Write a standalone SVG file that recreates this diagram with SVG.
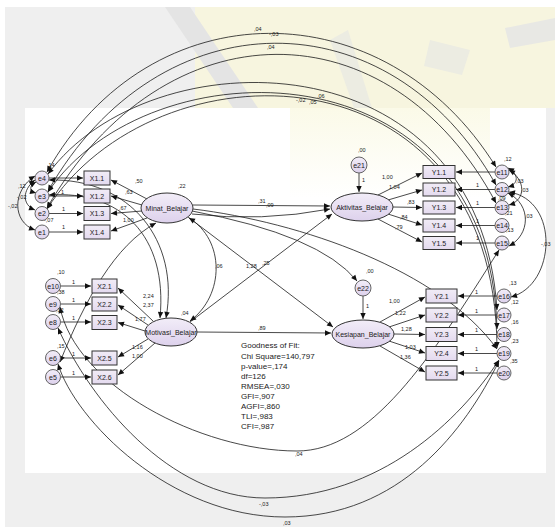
<svg xmlns="http://www.w3.org/2000/svg" width="555" height="527" viewBox="0 0 555 527">
<defs>
<marker id="ah" viewBox="0 0 10 10" refX="10" refY="5" markerWidth="7" markerHeight="6" markerUnits="userSpaceOnUse" orient="auto-start-reverse"><path d="M0,0.5 L10,5 L0,9.5 z" fill="#111"/></marker>
<linearGradient id="lg" x1="0" y1="0" x2="0" y2="1"><stop offset="0" stop-color="#f2edf8"/><stop offset="1" stop-color="#ddd1ec"/></linearGradient>
<linearGradient id="bg" x1="0" y1="0" x2="0" y2="1"><stop offset="0" stop-color="#f1ecf6"/><stop offset="1" stop-color="#e4daef"/></linearGradient>
<linearGradient id="yl" x1="0" y1="0" x2="0" y2="1"><stop offset="0" stop-color="#fbfae8"/><stop offset="1" stop-color="#ffffff"/></linearGradient>
</defs>
<style>
.c{fill:none;stroke:#1a1a1a;stroke-width:0.8}
.a{marker-end:url(#ah)}
.d{marker-start:url(#ah);marker-end:url(#ah)}
.box{fill:url(#bg);stroke:#333;stroke-width:1}
.lat{fill:url(#lg);stroke:#333;stroke-width:1}
.err{fill:url(#lg);stroke:#555;stroke-width:0.9}
text{font-family:"Liberation Sans",Arial,sans-serif;fill:#1a1a1a}
.n{font-size:7px;text-anchor:middle}
.v{font-size:5.5px}
.g{font-size:8px}
</style>
<!-- background -->
<rect x="0" y="0" width="555" height="527" fill="#ffffff"/>
<rect x="5" y="7" width="550" height="520" fill="#efefef"/>
<rect x="195" y="7" width="360" height="101" fill="#f7f5df"/>
<polygon points="165,7 190,7 258,108 233,108" fill="#e4e4e4"/>
<polygon points="330,40 348,30 372,108 354,108" fill="#ecece2"/>
<polygon points="430,40 470,50 462,75 424,66" fill="#ecece2"/>
<polygon points="505,28 555,18 555,40 510,48" fill="#e8e8e4"/>
<rect x="25" y="108" width="521" height="365" fill="#ffffff"/>
<rect x="290" y="108" width="200" height="90" fill="url(#yl)"/>

<g id="connectors">
<!-- top arcs -->
<path class="c d" d="M47,172 C150,-12 385,-12 496,167"/>
<path class="c d" d="M48,191 C160,-5 390,-5 496,185"/>
<path class="c d" d="M47,208 C165,4 390,4 496,203"/>
<path class="c d" d="M48,174 C150,35 480,35 497,310"/>
<path class="c d" d="M48,192 C150,42 490,42 497,329"/>
<path class="c d" d="M47,209 C155,40 495,40 497,348"/>
<!-- bottom arcs -->
<path class="c d" d="M60,307 C75,385 200,451 297,451 C370,451 430,360 499,250"/>
<path class="c d" d="M58,328 C90,400 170,498 265,498 C380,498 460,420 499,360"/>
<path class="c d" d="M58,364 C75,420 170,517 285,517 C400,517 465,430 499,361"/>
<!-- left local covariances -->
<path class="c d" d="M36,182 C29,186 29,191 36,193"/>
<path class="c d" d="M35,180 C22,190 22,205 35,210"/>
<path class="c d" d="M35,176 C12,190 12,222 35,230"/>
<!-- right local covariances -->
<path class="c d" d="M508,168 C519,174 519,184 508,187"/>
<path class="c d" d="M509,170 C526,180 526,200 509,205"/>
<path class="c d" d="M508,193 C532,205 530,235 509,246"/>
<path class="c d" d="M509,192 C560,200 556,285 511,297"/>
<!-- middle covariances -->
<path class="c d" d="M189,218 C225,240 225,295 190,321"/>
<path class="c d" d="M49,195 C120,190 168,235 160,318"/>
<path class="c d" d="M49,180 C130,178 180,240 166,318"/>
<path class="c d" d="M60,362 C85,300 115,245 156,223"/>
<path class="c a" d="M192,211 Q320,235 357,281"/>
<path class="c a" d="M193,209 C300,222 440,270 497,349"/>
<!-- structural -->
<path class="c a" d="M193,205 L330,206"/>
<path class="c a" d="M192,214 Q262,222 330,209"/>
<path class="c a" d="M188,217 L333,327"/>
<path class="c a" d="M190,322 L332,214"/>
<path class="c a" d="M197,332 L331,333"/>
<path class="c a" d="M359,173 L359,192"/>
<path class="c a" d="M363,296 L363,319"/>
<!-- X1 loadings -->
<path class="c a" d="M147,199 L111,180"/>
<path class="c a" d="M142,205 L111,196"/>
<path class="c a" d="M142,211 L111,213.5"/>
<path class="c a" d="M147,218 L111,231"/>
<path class="c a" d="M49,178 L83,178"/>
<path class="c a" d="M49,196 L83,196"/>
<path class="c a" d="M49,213.5 L83,213.5"/>
<path class="c a" d="M49,232 L83,232"/>
<!-- X2 loadings -->
<path class="c a" d="M153,321 L118,288"/>
<path class="c a" d="M148,325 L118,305"/>
<path class="c a" d="M145,331 L118,322.5"/>
<path class="c a" d="M148,339 L118,357"/>
<path class="c a" d="M155,343 L118,375"/>
<path class="c a" d="M61,286 L91,286"/>
<path class="c a" d="M61,304 L91,304"/>
<path class="c a" d="M61,322 L91,322"/>
<path class="c a" d="M61,358 L91,358"/>
<path class="c a" d="M61,377 L91,377"/>
<!-- Y1 loadings -->
<path class="c a" d="M378,195 L422,173"/>
<path class="c a" d="M388,200 L422,190"/>
<path class="c a" d="M393,207 L422,207.5"/>
<path class="c a" d="M388,214 L422,225"/>
<path class="c a" d="M378,219 L422,242"/>
<path class="c a" d="M495,172 L456,172"/>
<path class="c a" d="M495,189.5 L456,189.5"/>
<path class="c a" d="M495,207.5 L456,207.5"/>
<path class="c a" d="M495,225.5 L456,225.5"/>
<path class="c a" d="M495,243 L456,243"/>
<!-- Y2 loadings -->
<path class="c a" d="M380,322 L425,297"/>
<path class="c a" d="M389,327 L425,315"/>
<path class="c a" d="M394,334 L425,334.5"/>
<path class="c a" d="M389,341 L425,353"/>
<path class="c a" d="M380,346 L425,372"/>
<path class="c a" d="M497,296 L458,296"/>
<path class="c a" d="M497,315 L458,315"/>
<path class="c a" d="M497,334.5 L458,334.5"/>
<path class="c a" d="M497,353.5 L458,353.5"/>
<path class="c a" d="M497,373 L458,373"/>
</g>

<g id="e4"><circle class="err" cx="42" cy="178" r="7"/><text class="n" x="42" y="180.5">e4</text></g>
<g id="e3"><circle class="err" cx="42" cy="196" r="7"/><text class="n" x="42" y="198.5">e3</text></g>
<g id="e2"><circle class="err" cx="42" cy="213.5" r="7"/><text class="n" x="42" y="216">e2</text></g>
<g id="e1"><circle class="err" cx="42" cy="232" r="7"/><text class="n" x="42" y="234.5">e1</text></g>
<g id="X1.1"><rect class="box" x="84" y="171" width="26" height="14"/><text class="n" x="97" y="180.5">X1.1</text></g>
<g id="X1.2"><rect class="box" x="84" y="189" width="26" height="14"/><text class="n" x="97" y="198.5">X1.2</text></g>
<g id="X1.3"><rect class="box" x="84" y="206.5" width="26" height="14"/><text class="n" x="97" y="216">X1.3</text></g>
<g id="X1.4"><rect class="box" x="84" y="225" width="26" height="14"/><text class="n" x="97" y="234.5">X1.4</text></g>
<g id="Minat_Belajar"><ellipse class="lat" cx="167" cy="208" rx="26" ry="15"/><text class="n" x="167" y="210.5">Minat_Belajar</text></g>

<g id="e10"><circle class="err" cx="53" cy="286" r="7.5"/><text class="n" x="53" y="288.5">e10</text></g>
<g id="e9"><circle class="err" cx="53" cy="304" r="7.5"/><text class="n" x="53" y="306.5">e9</text></g>
<g id="e8"><circle class="err" cx="53" cy="322" r="7.5"/><text class="n" x="53" y="324.5">e8</text></g>
<g id="e6"><circle class="err" cx="53" cy="358" r="7.5"/><text class="n" x="53" y="360.5">e6</text></g>
<g id="e5"><circle class="err" cx="53" cy="377" r="7.5"/><text class="n" x="53" y="379.5">e5</text></g>
<g id="X2.1"><rect class="box" x="92" y="279" width="25" height="14"/><text class="n" x="104.5" y="288.5">X2.1</text></g>
<g id="X2.2"><rect class="box" x="92" y="297" width="25" height="14"/><text class="n" x="104.5" y="306.5">X2.2</text></g>
<g id="X2.3"><rect class="box" x="92" y="315.5" width="25" height="14"/><text class="n" x="104.5" y="325">X2.3</text></g>
<g id="X2.5"><rect class="box" x="92" y="351" width="25" height="14"/><text class="n" x="104.5" y="360.5">X2.5</text></g>
<g id="X2.6"><rect class="box" x="92" y="370" width="25" height="14"/><text class="n" x="104.5" y="379.5">X2.6</text></g>
<g id="Motivasi_Belajar"><ellipse class="lat" cx="171" cy="332" rx="26" ry="14"/><text class="n" x="171" y="334.5">Motivasi_Belajar</text></g>

<g id="e21"><circle class="err" cx="359" cy="165" r="8"/><text class="n" x="359" y="167.5">e21</text></g>
<g id="Aktivitas_Belajar"><ellipse class="lat" cx="362" cy="207" rx="31" ry="14"/><text class="n" x="362" y="209.5">Aktivitas_Belajar</text></g>
<g id="Y1.1"><rect class="box" x="423" y="165.5" width="32" height="13"/><text class="n" x="439" y="174.5">Y1.1</text></g>
<g id="Y1.2"><rect class="box" x="423" y="183" width="32" height="13"/><text class="n" x="439" y="192">Y1.2</text></g>
<g id="Y1.3"><rect class="box" x="423" y="201" width="32" height="13"/><text class="n" x="439" y="210">Y1.3</text></g>
<g id="Y1.4"><rect class="box" x="423" y="219" width="32" height="13"/><text class="n" x="439" y="228">Y1.4</text></g>
<g id="Y1.5"><rect class="box" x="423" y="236.5" width="32" height="13"/><text class="n" x="439" y="245.5">Y1.5</text></g>
<g id="e11"><circle class="err" cx="502" cy="172" r="7"/><text class="n" x="502" y="174.5">e11</text></g>
<g id="e12"><circle class="err" cx="502" cy="189.5" r="7"/><text class="n" x="502" y="192">e12</text></g>
<g id="e13"><circle class="err" cx="502" cy="207.5" r="7"/><text class="n" x="502" y="210">e13</text></g>
<g id="e14"><circle class="err" cx="502" cy="225.5" r="7"/><text class="n" x="502" y="228">e14</text></g>
<g id="e15"><circle class="err" cx="502" cy="243" r="7"/><text class="n" x="502" y="245.5">e15</text></g>

<g id="e22"><circle class="err" cx="363" cy="288" r="8"/><text class="n" x="363" y="290.5">e22</text></g>
<g id="Kesiapan_Belajar"><ellipse class="lat" cx="363" cy="334" rx="31" ry="14"/><text class="n" x="363" y="336.5">Kesiapan_Belajar</text></g>
<g id="Y2.1"><rect class="box" x="426" y="289" width="31" height="14"/><text class="n" x="441.5" y="298.5">Y2.1</text></g>
<g id="Y2.2"><rect class="box" x="426" y="308" width="31" height="14"/><text class="n" x="441.5" y="317.5">Y2.2</text></g>
<g id="Y2.3"><rect class="box" x="426" y="327.5" width="31" height="14"/><text class="n" x="441.5" y="337">Y2.3</text></g>
<g id="Y2.4"><rect class="box" x="426" y="346.5" width="31" height="14"/><text class="n" x="441.5" y="356">Y2.4</text></g>
<g id="Y2.5"><rect class="box" x="426" y="366" width="31" height="14"/><text class="n" x="441.5" y="375.5">Y2.5</text></g>
<g id="e16"><circle class="err" cx="504" cy="296" r="7"/><text class="n" x="504" y="298.5">e16</text></g>
<g id="e17"><circle class="err" cx="504" cy="315" r="7"/><text class="n" x="504" y="317.5">e17</text></g>
<g id="e18"><circle class="err" cx="504" cy="334.5" r="7"/><text class="n" x="504" y="337">e18</text></g>
<g id="e19"><circle class="err" cx="504" cy="353.5" r="7"/><text class="n" x="504" y="356">e19</text></g>
<g id="e20"><circle class="err" cx="504" cy="373" r="7"/><text class="n" x="504" y="375.5">e20</text></g>

<g id="labels">
<text class="v" x="254" y="31">,04</text>
<text class="v" x="269" y="36">-,03</text>
<text class="v" x="267" y="49">,04</text>
<text class="v" x="296" y="102">-,02</text>
<text class="v" x="309" y="104">,05</text>
<text class="v" x="317" y="98">,06</text>
<text class="v" x="295" y="456">,04</text>
<text class="v" x="259" y="506">-,03</text>
<text class="v" x="283" y="525">,03</text>
<text class="v" x="47" y="167">,14</text>
<text class="v" x="18" y="188">,12</text>
<text class="v" x="17" y="199">-,02</text>
<text class="v" x="8" y="208">-,02</text>
<text class="v" x="44" y="222">-,07</text>
<text class="v" x="61" y="194">1</text>
<text class="v" x="62" y="211">1</text>
<text class="v" x="62" y="229">1</text>
<text class="v" x="135" y="183">,50</text>
<text class="v" x="125" y="194">,63</text>
<text class="v" x="119" y="210">,67</text>
<text class="v" x="123" y="222">1,00</text>
<text class="v" x="178" y="188">,22</text>
<text class="v" x="57" y="274">,10</text>
<text class="v" x="57" y="294">,38</text>
<text class="v" x="56" y="312">,12</text>
<text class="v" x="57" y="348">,15</text>
<text class="v" x="72" y="284">1</text>
<text class="v" x="72" y="302">1</text>
<text class="v" x="72" y="320">1</text>
<text class="v" x="72" y="356">1</text>
<text class="v" x="72" y="375">1</text>
<text class="v" x="143" y="298">2,24</text>
<text class="v" x="143" y="307">2,37</text>
<text class="v" x="135" y="321">1,77</text>
<text class="v" x="132" y="349">1,16</text>
<text class="v" x="132" y="358">1,00</text>
<text class="v" x="181" y="315">,04</text>
<text class="v" x="215" y="268">,06</text>
<text class="v" x="258" y="203">,31</text>
<text class="v" x="266" y="207">,09</text>
<text class="v" x="246" y="268">1,28</text>
<text class="v" x="262" y="265">,25</text>
<text class="v" x="258" y="330">,89</text>
<text class="v" x="358" y="152">,00</text>
<text class="v" x="362" y="182">1</text>
<text class="v" x="366" y="273">,00</text>
<text class="v" x="366" y="308">1</text>
<text class="v" x="382" y="179">1,00</text>
<text class="v" x="389" y="189">1,04</text>
<text class="v" x="407" y="204">,83</text>
<text class="v" x="400" y="219">,84</text>
<text class="v" x="395" y="229">,79</text>
<text class="v" x="476" y="187">1</text>
<text class="v" x="476" y="205">1</text>
<text class="v" x="476" y="223">1</text>
<text class="v" x="476" y="240">1</text>
<text class="v" x="504" y="161">,12</text>
<text class="v" x="516" y="183">,03</text>
<text class="v" x="521" y="192">,03</text>
<text class="v" x="498" y="200">,09</text>
<text class="v" x="505" y="215">,21</text>
<text class="v" x="525" y="218">,03</text>
<text class="v" x="506" y="232">,13</text>
<text class="v" x="541" y="246">-,03</text>
<text class="v" x="389" y="303">1,00</text>
<text class="v" x="395" y="315">1,22</text>
<text class="v" x="401" y="331">1,28</text>
<text class="v" x="405" y="349">1,03</text>
<text class="v" x="400" y="359">1,36</text>
<text class="v" x="475" y="294">1</text>
<text class="v" x="475" y="313">1</text>
<text class="v" x="475" y="332">1</text>
<text class="v" x="475" y="351">1</text>
<text class="v" x="475" y="371">1</text>
<text class="v" x="509" y="285">,13</text>
<text class="v" x="511" y="304">,12</text>
<text class="v" x="511" y="324">,16</text>
<text class="v" x="511" y="343">,23</text>
<text class="v" x="510" y="363">,35</text>
</g>
<g id="fit">
<text class="g" x="241" y="348">Goodness of Fit:</text>
<text class="g" x="241" y="358.5">Chi Square=140,797</text>
<text class="g" x="241" y="368.7">p-value=,174</text>
<text class="g" x="241" y="378.5">df=126</text>
<text class="g" x="241" y="388.5">RMSEA=,030</text>
<text class="g" x="241" y="398.7">GFI=,907</text>
<text class="g" x="241" y="408.7">AGFI=,860</text>
<text class="g" x="241" y="418.7">TLI=,983</text>
<text class="g" x="241" y="428.7">CFI=,987</text>
</g>
</svg>
